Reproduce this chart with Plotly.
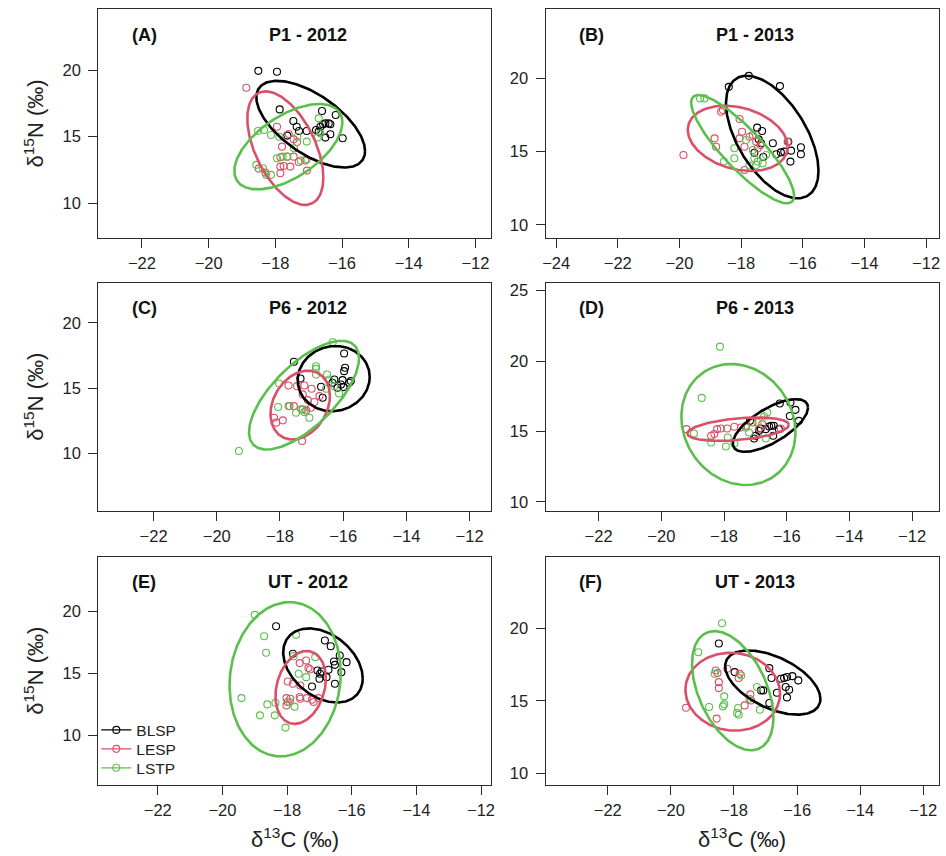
import numpy as np
import plotly.graph_objects as go

# ---- groups -------------------------------------------------------------
GROUPS = ["BLSP", "LESP", "LSTP"]
COLORS = ["#000000", "#DB5069", "#5BBF4C"]

PANEL_TAGS = ["(A)", "(B)", "(C)", "(D)", "(E)", "(F)"]
PANEL_TITLES = ["P1 - 2012", "P1 - 2013", "P6 - 2012", "P6 - 2013", "UT - 2012", "UT - 2013"]

# ---- isotope values (d13C, d15N) per panel and group ---------------------
A_BLSP_C = [-18.51, -17.95, -17.87, -17.46, -17.36, -17.64, -17.29, -17.06, -16.60, -16.19,
            -16.70, -16.65, -16.57, -16.50, -16.40, -16.35, -16.50, -16.35, -15.98, -16.78]
A_BLSP_N = [19.95, 19.88, 17.05, 16.18, 15.75, 15.08, 15.43, 15.43, 16.93, 16.63,
            15.38, 15.75, 15.93, 16.00, 16.00, 15.93, 14.93, 15.18, 14.88, 15.50]
A_LESP_C = [-18.87, -17.95, -17.80, -17.85, -17.65, -17.45, -17.85, -17.75, -17.55, -17.85,
            -17.05, -17.30, -17.10, -17.35, -17.45, -17.60, -18.50, -18.30]
A_LESP_N = [18.68, 15.75, 14.25, 13.45, 13.50, 13.50, 12.75, 12.80, 12.75, 12.25,
            12.45, 13.10, 13.20, 14.60, 14.80, 15.20, 12.60, 12.30]
A_LSTP_C = [-18.52, -18.34, -18.13, -17.88, -18.57, -18.37, -18.28, -18.13, -17.95, -17.78,
            -17.64, -17.24, -17.06, -17.34, -17.06, -16.70, -16.73, -16.65, -17.44]
A_LSTP_N = [15.43, 15.50, 15.13, 15.00, 12.88, 12.63, 12.13, 12.13, 13.38, 13.50,
            13.50, 13.20, 13.30, 15.00, 14.63, 16.38, 14.93, 15.25, 14.13]

B_BLSP_C = [-18.40, -17.75, -16.74, -17.48, -17.32, -17.43, -17.35, -17.57, -17.28, -16.97,
            -16.86, -16.71, -16.47, -16.38, -16.40, -16.06, -16.06, -16.60]
B_BLSP_N = [19.43, 20.18, 19.48, 16.64, 16.41, 15.84, 15.57, 14.93, 14.64, 15.57,
            14.82, 14.95, 15.68, 15.07, 14.32, 15.30, 14.82, 15.00]
B_LESP_C = [-19.87, -18.86, -18.81, -18.65, -18.59, -18.05, -17.97, -18.05, -17.89, -17.73,
            -17.62, -17.51, -17.46, -17.37, -17.89, -16.49]
B_LESP_N = [14.77, 15.91, 15.34, 17.73, 17.84, 17.23, 16.36, 15.91, 15.34, 16.02,
            16.14, 15.68, 15.23, 15.45, 13.75, 15.68]
B_LSTP_C = [-19.33, -19.19, -18.56, -18.22, -18.22, -17.84, -17.62, -17.57, -17.46, -17.30,
            -17.19, -17.51, -17.73]
B_LSTP_N = [18.64, 18.64, 14.32, 14.55, 15.23, 15.80, 15.11, 14.55, 14.32, 14.20,
            14.77, 14.09, 14.05]

C_BLSP_C = [-17.56, -17.35, -16.70, -16.65, -16.34, -16.28, -16.18, -16.07, -16.02, -15.97,
            -15.94, -15.97, -15.81, -15.76, -15.99]
C_BLSP_N = [17.02, 15.74, 15.10, 14.26, 15.41, 15.66, 15.03, 15.28, 15.61, 16.30,
            16.56, 17.65, 15.41, 15.54, 15.08]
C_LESP_C = [-18.19, -18.12, -17.91, -17.73, -17.46, -17.23, -17.00, -17.28, -17.12, -16.91,
            -17.28, -17.17, -17.30, -17.70, -17.56, -17.02, -16.75]
C_LESP_N = [12.73, 12.35, 12.53, 15.20, 15.15, 15.20, 14.95, 14.52, 14.08, 13.93,
            13.37, 13.29, 10.94, 13.62, 13.62, 13.50, 14.39]
C_LSTP_C = [-19.30, -18.03, -18.06, -17.73, -17.49, -17.23, -17.07, -16.86, -16.86, -16.86,
            -16.51, -16.44, -16.54, -16.33, -16.13, -17.33, -16.28]
C_LSTP_N = [10.18, 15.36, 13.55, 13.62, 13.11, 13.16, 12.73, 16.68, 16.48, 16.05,
            16.05, 15.66, 14.95, 18.52, 14.59, 13.37, 15.15]

D_BLSP_C = [-17.17, -17.04, -16.99, -16.83, -16.67, -16.56, -16.49, -16.43, -16.25, -16.22,
            -15.90, -15.72, -15.61, -15.88, -16.88, -16.41]
D_BLSP_N = [15.75, 14.50, 14.69, 15.21, 15.16, 15.35, 15.40, 14.69, 15.16, 16.98,
            16.10, 16.53, 15.75, 17.05, 15.04, 15.40]
D_LESP_C = [-19.20, -18.31, -18.22, -18.10, -17.90, -17.67, -17.46, -17.30, -16.88, -16.78,
            -16.19, -18.41, -17.09]
D_LESP_N = [15.16, 14.81, 15.16, 15.21, 15.21, 15.33, 15.28, 15.40, 15.21, 15.51,
            15.21, 14.69, 15.63]
D_LSTP_C = [-18.13, -18.71, -18.96, -18.41, -17.94, -17.67, -17.30, -17.20, -16.93, -16.72,
            -16.62, -16.67, -17.88]
D_LSTP_N = [21.02, 17.38, 14.85, 14.21, 13.93, 14.14, 15.28, 14.92, 15.63, 16.06,
            16.34, 14.50, 14.57]

E_BLSP_C = [-18.34, -17.82, -16.83, -16.65, -16.55, -16.52, -16.37, -16.16, -16.32, -16.52,
            -17.06, -16.98, -17.00, -17.23, -16.72, -16.78, -16.93]
E_BLSP_N = [18.79, 16.57, 17.64, 17.18, 15.95, 15.68, 16.43, 15.90, 15.09, 14.16,
            15.23, 14.96, 14.56, 13.94, 15.28, 14.69, 15.15]
E_LESP_C = [-17.98, -17.82, -18.02, -17.90, -18.02, -17.98, -17.61, -17.41, -17.34, -17.29,
            -17.61, -17.59, -17.39, -17.23, -17.03, -17.18, -17.59]
E_LESP_N = [14.34, 14.16, 13.00, 12.95, 12.41, 12.68, 15.82, 16.03, 15.42, 15.31,
            13.09, 12.95, 13.00, 12.87, 13.00, 12.68, 14.02]
E_LSTP_C = [-19.00, -18.71, -18.65, -19.41, -18.61, -18.84, -18.38, -18.36, -18.05, -17.77,
            -17.72, -17.80, -17.41, -17.64, -17.13, -17.92]
E_LSTP_N = [19.71, 17.99, 16.65, 13.00, 12.49, 11.61, 11.61, 12.63, 10.62, 12.31,
            18.10, 16.38, 14.69, 14.96, 16.30, 12.68]

F_BLSP_C = [-18.48, -16.88, -16.81, -16.51, -16.41, -16.32, -16.15, -15.96, -16.36, -16.25,
            -16.32, -16.64, -17.07, -17.14, -16.88, -17.98]
F_BLSP_N = [18.95, 17.25, 16.57, 16.52, 16.57, 16.64, 16.70, 16.41, 15.95, 15.77,
            15.24, 15.56, 15.72, 15.72, 14.85, 16.98]
F_LESP_C = [-19.52, -18.58, -18.52, -18.48, -18.48, -18.55, -18.21, -17.85, -17.82, -17.48,
            -17.66, -17.46]
F_LESP_N = [14.53, 17.09, 16.91, 16.29, 15.88, 13.78, 17.21, 16.57, 16.86, 15.45,
            14.69, 15.03]
F_LSTP_C = [-18.38, -19.13, -18.79, -18.31, -18.31, -18.35, -17.87, -17.85, -17.90, -17.27,
            -17.18, -18.61, -17.77, -17.51]
F_LSTP_N = [20.34, 18.35, 14.58, 15.31, 14.76, 14.62, 14.51, 14.05, 14.16, 15.95,
            14.39, 16.86, 16.75, 15.15]

# ---- niche ellipses: centre, half-extent in x / y, correlation (panels A-F)
ELL_CX_BLSP = [-16.94, -16.99, -16.30, -16.52, -16.89, -16.77]
ELL_CY_BLSP = [15.94, 16.00, 15.73, 15.42, 15.63, 16.26]
ELL_SX_BLSP = [1.63, 1.50, 1.14, 1.20, 1.23, 1.51]
ELL_SY_BLSP = [3.26, 4.19, 2.50, 1.87, 2.99, 2.21]
ELL_R_BLSP = [-0.62, -0.55, 0.05, 0.68, -0.35, -0.51]

ELL_CX_LESP = [-17.70, -18.11, -17.36, -17.55, -17.58, -18.04]
ELL_CY_LESP = [14.14, 15.91, 13.70, 15.16, 13.86, 15.63]
ELL_SX_LESP = [1.14, 1.62, 0.94, 1.62, 0.78, 1.50]
ELL_SY_LESP = [4.27, 2.23, 2.64, 0.83, 2.94, 2.68]
ELL_R_LESP = [-0.52, -0.26, 0.26, 0.37, 0.24, -0.05]

ELL_CX_LSTP = [-17.61, -17.95, -17.24, -17.54, -18.06, -18.04]
ELL_CY_LSTP = [14.25, 15.17, 14.46, 15.49, 14.52, 15.70]
ELL_SX_LSTP = [1.62, 1.67, 1.74, 1.82, 1.72, 1.29]
ELL_SY_LSTP = [3.21, 3.70, 4.17, 4.30, 6.22, 4.10]
ELL_R_LSTP = [0.57, -0.86, 0.68, -0.13, 0.08, -0.45]

# ---- axis ranges per panel ------------------------------------------------
X_RANGES = [[-23.31, -11.53], [-24.34, -11.58], [-23.75, -11.32],
            [-23.69, -11.14], [-23.84, -11.69], [-23.97, -11.50]]
Y_RANGES = [[7.37, 24.58], [9.09, 24.73], [5.59, 23.06],
            [9.36, 25.54], [5.98, 24.40], [9.20, 24.92]]

POINTS = {
    "A": [(A_BLSP_C, A_BLSP_N), (A_LESP_C, A_LESP_N), (A_LSTP_C, A_LSTP_N)],
    "B": [(B_BLSP_C, B_BLSP_N), (B_LESP_C, B_LESP_N), (B_LSTP_C, B_LSTP_N)],
    "C": [(C_BLSP_C, C_BLSP_N), (C_LESP_C, C_LESP_N), (C_LSTP_C, C_LSTP_N)],
    "D": [(D_BLSP_C, D_BLSP_N), (D_LESP_C, D_LESP_N), (D_LSTP_C, D_LSTP_N)],
    "E": [(E_BLSP_C, E_BLSP_N), (E_LESP_C, E_LESP_N), (E_LSTP_C, E_LSTP_N)],
    "F": [(F_BLSP_C, F_BLSP_N), (F_LESP_C, F_LESP_N), (F_LSTP_C, F_LSTP_N)],
}
ELLIPSES = [
    (ELL_CX_BLSP, ELL_CY_BLSP, ELL_SX_BLSP, ELL_SY_BLSP, ELL_R_BLSP),
    (ELL_CX_LESP, ELL_CY_LESP, ELL_SX_LESP, ELL_SY_LESP, ELL_R_LESP),
    (ELL_CX_LSTP, ELL_CY_LSTP, ELL_SX_LSTP, ELL_SY_LSTP, ELL_R_LSTP),
]

# ---- page geometry (pixels) ----------------------------------------------
W, H = 946, 856
COL_X = [(96, 491.7), (546.7, 943)]
ROW_Y = [(7.3, 236.7), (281.7, 510), (556, 785)]
LEGEND_ROW_Y = [727, 746, 765]
FONT = "Liberation Sans, Arial, sans-serif"
AXIS_COLOR = "#2b2b2b"
TEXT_COLOR = "#222222"


def ellipse_path(cx, cy, sx, sy, r, n=240):
    t = np.linspace(0, 2 * np.pi, n)
    x = cx + sx * np.cos(t)
    y = cy + sy * (r * np.cos(t) + np.sqrt(1 - r * r) * np.sin(t))
    return x, y


fig = go.Figure()
layout = dict(
    width=W, height=H, margin=dict(l=0, r=0, t=0, b=0),
    paper_bgcolor="white", plot_bgcolor="white",
    font=dict(family=FONT, color=TEXT_COLOR, size=16),
    showlegend=True,
)
annotations = []

for i, key in enumerate("ABCDEF"):
    row, col = divmod(i, 2)
    x0, x1 = COL_X[col]
    y0, y1 = ROW_Y[row]
    xa = "x" if i == 0 else f"x{i + 1}"
    ya = "y" if i == 0 else f"y{i + 1}"
    xname = "xaxis" if i == 0 else f"xaxis{i + 1}"
    yname = "yaxis" if i == 0 else f"yaxis{i + 1}"

    common = dict(showgrid=False, zeroline=False, showline=True, mirror=True,
                  linecolor=AXIS_COLOR, linewidth=1.3, ticks="outside", ticklen=9,
                  tickwidth=1.2, tickcolor=AXIS_COLOR,
                  tickfont=dict(family=FONT, size=16.5, color=TEXT_COLOR))
    layout[xname] = dict(common, domain=[x0 / W, x1 / W], range=X_RANGES[i],
                         tick0=0, dtick=2, anchor=ya, ticklabelstandoff=1)
    layout[yname] = dict(common, domain=[1 - y1 / H, 1 - y0 / H], range=Y_RANGES[i],
                         tick0=0, dtick=5, anchor=xa, ticklabelstandoff=4)

    # observations
    for g, (cvals, nvals) in enumerate(POINTS[key]):
        fig.add_trace(go.Scatter(
            x=cvals, y=nvals, mode="markers", xaxis=xa, yaxis=ya,
            marker=dict(symbol="circle-open", size=7, color=COLORS[g],
                        line=dict(width=1.1, color=COLORS[g])),
            showlegend=False, hoverinfo="skip"))
    # standard ellipses
    for g, (cx, cy, sx, sy, r) in enumerate(ELLIPSES):
        ex, ey = ellipse_path(cx[i], cy[i], sx[i], sy[i], r[i])
        fig.add_trace(go.Scatter(
            x=ex, y=ey, mode="lines", xaxis=xa, yaxis=ya,
            line=dict(color=COLORS[g], width=2.6),
            showlegend=False, hoverinfo="skip"))

    ty = 1 - ((y0 + 25.3) / H)
    annotations.append(dict(text="<b>" + PANEL_TAGS[i] + "</b>", xref="paper", yref="paper",
                            x=(x0 + 32) / W, y=ty, xanchor="left", yanchor="middle",
                            showarrow=False, font=dict(family=FONT, size=18, color="#111111")))
    annotations.append(dict(text="<b>" + PANEL_TITLES[i] + "</b>", xref="paper", yref="paper",
                            x=(x0 + 211) / W, y=ty, xanchor="center", yanchor="middle",
                            showarrow=False, font=dict(family=FONT, size=18, color="#111111")))

    if col == 0:
        annotations.append(dict(text="\u03b4<sup>15</sup>N (\u2030)", xref="paper", yref="paper",
                                x=31 / W, y=1 - ((y0 + y1) / 2) / H, textangle=-90,
                                xanchor="center", yanchor="middle", showarrow=False,
                                font=dict(family=FONT, size=22, color=TEXT_COLOR)))
    if row == 2:
        annotations.append(dict(text="\u03b4<sup>13</sup>C (\u2030)", xref="paper", yref="paper",
                                x=((x0 + x1) / 2) / W, y=1 - 838 / H,
                                xanchor="center", yanchor="middle", showarrow=False,
                                font=dict(family=FONT, size=22, color=TEXT_COLOR)))

# legend keys (line with open circle), one small legend per group so the
# rows sit close together inside the UT - 2012 panel
legend_ids = ["legend", "legend2", "legend3"]
for g, name in enumerate(GROUPS):
    fig.add_trace(go.Scatter(
        x=[None], y=[None], mode="lines+markers", name=name, xaxis="x5", yaxis="y5",
        legend=legend_ids[g],
        line=dict(color=COLORS[g], width=1.3),
        marker=dict(symbol="circle-open", size=7, color=COLORS[g],
                    line=dict(width=1.1, color=COLORS[g]))))
    layout[legend_ids[g]] = dict(
        x=94 / W, y=1 - (LEGEND_ROW_Y[g] - 14) / H, xanchor="left", yanchor="top",
        bgcolor="rgba(0,0,0,0)", borderwidth=0,
        font=dict(family=FONT, size=15.5, color=TEXT_COLOR), itemwidth=30)

layout["annotations"] = annotations
fig.update_layout(**layout)

fig.write_html("out.html")
